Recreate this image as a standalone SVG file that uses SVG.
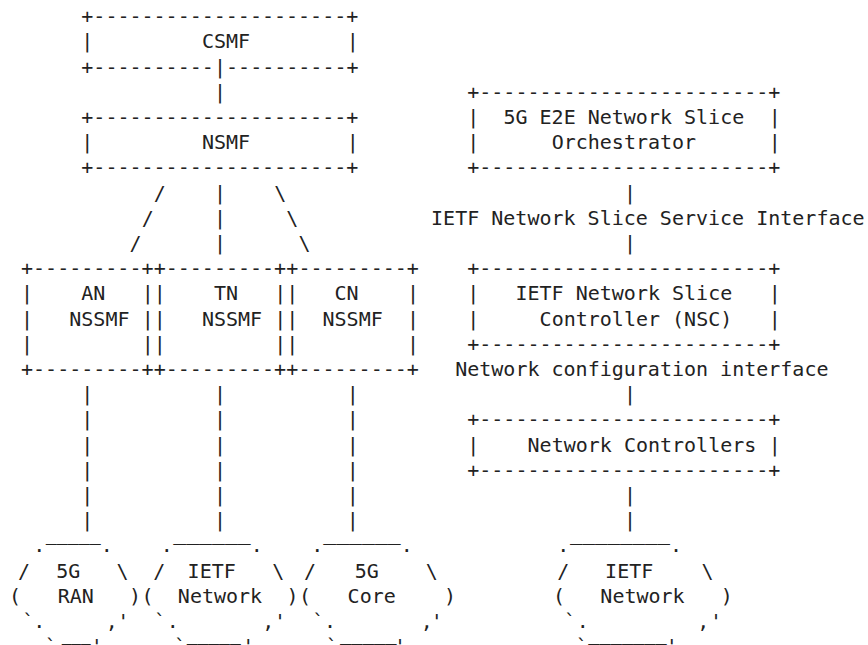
<svg xmlns="http://www.w3.org/2000/svg" width="868" height="645" viewBox="0 0 868 645">
<style>
text{font-family:"DejaVu Sans Mono","Liberation Mono",monospace;font-size:20px;fill:#222}
.m{text-anchor:middle}
</style>
<rect width="868" height="645" fill="#fff"/>
<g id="csmf">
<text x="81.33" y="23.1">+---------------------+</text>
<text x="81.33" y="48.3">|</text><text x="201.93" y="48.3">CSMF</text><text x="346.65" y="48.3">|</text>
<text x="81.33" y="73.5">+----------</text><text x="226.05" y="73.5">----------+</text>
</g>
<g id="nsmf">
<text x="81.33" y="123.9">+---------------------+</text>
<text x="81.33" y="149.1">|</text><text x="201.93" y="149.1">NSMF</text><text x="346.65" y="149.1">|</text>
<text x="81.33" y="174.3">+---------------------+</text>
</g>
<g id="an-nssmf">
<text x="21.03" y="275.1">+---------+</text>
<text x="21.03" y="300.3">|</text><text x="81.33" y="300.3">AN</text><text x="141.63" y="300.3">|</text>
<text x="21.03" y="325.5">|</text><text x="69.27" y="325.5">NSSMF</text><text x="141.63" y="325.5">|</text>
<text x="21.03" y="350.7">|</text><text x="141.63" y="350.7">|</text>
<text x="21.03" y="375.9">+---------+</text>
</g>
<g id="tn-nssmf">
<text x="153.69" y="275.1">+---------+</text>
<text x="153.69" y="300.3">|</text><text x="213.99" y="300.3">TN</text><text x="274.29" y="300.3">|</text>
<text x="153.69" y="325.5">|</text><text x="201.93" y="325.5">NSSMF</text><text x="274.29" y="325.5">|</text>
<text x="153.69" y="350.7">|</text><text x="274.29" y="350.7">|</text>
<text x="153.69" y="375.9">+---------+</text>
</g>
<g id="cn-nssmf">
<text x="286.35" y="275.1">+---------+</text>
<text x="286.35" y="300.3">|</text><text x="334.59" y="300.3">CN</text><text x="406.95" y="300.3">|</text>
<text x="286.35" y="325.5">|</text><text x="322.53" y="325.5">NSSMF</text><text x="406.95" y="325.5">|</text>
<text x="286.35" y="350.7">|</text><text x="406.95" y="350.7">|</text>
<text x="286.35" y="375.9">+---------+</text>
</g>
<g id="ran">
<text class="m" x="39.3" y="552.3">.</text><text x="45.7" y="539.8" textLength="55" lengthAdjust="spacingAndGlyphs">_____</text><text class="m" x="106.7" y="552.3">.</text>
<text class="m" x="24" y="577.5">/</text><text class="m" x="68.3" y="577.5">5G</text><text class="m" x="122.5" y="577.5">\</text>
<text class="m" x="15" y="602.7">(</text><text class="m" x="75.8" y="602.7">RAN</text><text class="m" x="135" y="602.7">)</text>
<text class="m" x="28.3" y="627.9">`</text><text class="m" x="39.3" y="627.9">.</text><text class="m" x="111.7" y="627.9">,</text><text class="m" x="123.3" y="627.9">'</text>
<text class="m" x="50.7" y="653.1">`</text><text x="61.7" y="639.8" textLength="29" lengthAdjust="spacingAndGlyphs">___</text><text class="m" x="96.7" y="653.1">'</text>
</g>
<g id="ietf-network">
<text class="m" x="166.7" y="552.3">.</text><text x="173.3" y="539.8" textLength="77.4" lengthAdjust="spacingAndGlyphs">______</text><text class="m" x="256.7" y="552.3">.</text>
<text class="m" x="159.2" y="577.5">/</text><text class="m" x="211.7" y="577.5">IETF</text><text class="m" x="278.3" y="577.5">\</text>
<text class="m" x="147.5" y="602.7">(</text><text class="m" x="220" y="602.7">Network</text><text class="m" x="292.5" y="602.7">)</text>
<text class="m" x="160" y="627.9">`</text><text class="m" x="172.7" y="627.9">.</text><text class="m" x="268.3" y="627.9">,</text><text class="m" x="280" y="627.9">'</text>
<text class="m" x="180" y="653.1">`</text><text x="186.7" y="639.8" textLength="54" lengthAdjust="spacingAndGlyphs">_____</text><text class="m" x="248.3" y="653.1">'</text>
</g>
<g id="core">
<text class="m" x="317.3" y="552.3">.</text><text x="323.3" y="539.8" textLength="77.4" lengthAdjust="spacingAndGlyphs">______</text><text class="m" x="406.7" y="552.3">.</text>
<text class="m" x="310" y="577.5">/</text><text class="m" x="366.7" y="577.5">5G</text><text class="m" x="431.7" y="577.5">\</text>
<text class="m" x="305" y="602.7">(</text><text class="m" x="371.7" y="602.7">Core</text><text class="m" x="450" y="602.7">)</text>
<text class="m" x="318.3" y="627.9">`</text><text class="m" x="330" y="627.9">.</text><text class="m" x="426.7" y="627.9">,</text><text class="m" x="436.7" y="627.9">'</text>
<text class="m" x="331.7" y="653.1">`</text><text x="340" y="639.8" textLength="56.7" lengthAdjust="spacingAndGlyphs">_____</text><text class="m" x="400" y="653.1">'</text>
</g>
<g id="orchestrator">
<text x="467.25" y="98.7">+------------------------+</text>
<text x="467.25" y="123.9">|</text><text x="503.43" y="123.9">5G E2E Network Slice</text><text x="768.75" y="123.9">|</text>
<text x="467.25" y="149.1">|</text><text x="551.67" y="149.1">Orchestrator</text><text x="768.75" y="149.1">|</text>
<text x="467.25" y="174.3">+------------------------+</text>
</g>
<g id="nsc">
<text x="467.25" y="275.1">+------------------------+</text>
<text x="467.25" y="300.3">|</text><text x="515.49" y="300.3">IETF Network Slice</text><text x="768.75" y="300.3">|</text>
<text x="467.25" y="325.5">|</text><text x="539.61" y="325.5">Controller (NSC)</text><text x="768.75" y="325.5">|</text>
<text x="467.25" y="350.7">+------------------------+</text>
</g>
<g id="network-controllers">
<text x="467.25" y="426.3">+------------------------+</text>
<text x="467.25" y="451.5">|</text><text x="527.55" y="451.5">Network Controllers</text><text x="768.75" y="451.5">|</text>
<text x="467.25" y="476.7">+------------------------+</text>
</g>
<g id="ietf-network-2">
<text class="m" x="563.3" y="552.3">.</text><text x="570" y="539.8" textLength="100" lengthAdjust="spacingAndGlyphs">________</text><text class="m" x="676" y="552.3">.</text>
<text class="m" x="563.3" y="577.5">/</text><text class="m" x="629.2" y="577.5">IETF</text><text class="m" x="707.5" y="577.5">\</text>
<text class="m" x="559" y="602.7">(</text><text class="m" x="642.5" y="602.7">Network</text><text class="m" x="726.7" y="602.7">)</text>
<text class="m" x="570" y="627.9">`</text><text class="m" x="582.7" y="627.9">.</text><text class="m" x="703.3" y="627.9">,</text><text class="m" x="716" y="627.9">'</text>
<text class="m" x="581.7" y="653.1">`</text><text x="588.3" y="639.8" textLength="78.4" lengthAdjust="spacingAndGlyphs">_______</text><text class="m" x="671.7" y="653.1">'</text>
</g>
<g id="connectors">
<text x="213.99" y="73.5">|</text>
<text x="213.99" y="98.7">|</text>
<text x="153.69" y="199.5">/</text><text x="213.99" y="199.5">|</text><text x="274.29" y="199.5">\</text>
<text x="141.63" y="224.7">/</text><text x="213.99" y="224.7">|</text><text x="286.35" y="224.7">\</text>
<text x="129.57" y="249.9">/</text><text x="213.99" y="249.9">|</text><text x="298.41" y="249.9">\</text>
<text x="81.33" y="401.1">|</text><text x="213.99" y="401.1">|</text><text x="346.65" y="401.1">|</text>
<text x="81.33" y="426.3">|</text><text x="213.99" y="426.3">|</text><text x="346.65" y="426.3">|</text>
<text x="81.33" y="451.5">|</text><text x="213.99" y="451.5">|</text><text x="346.65" y="451.5">|</text>
<text x="81.33" y="476.7">|</text><text x="213.99" y="476.7">|</text><text x="346.65" y="476.7">|</text>
<text x="81.33" y="501.9">|</text><text x="213.99" y="501.9">|</text><text x="346.65" y="501.9">|</text>
<text x="81.33" y="527.1">|</text><text x="213.99" y="527.1">|</text><text x="346.65" y="527.1">|</text>
<text x="624.03" y="199.5">|</text>
<text x="431.07" y="224.7">IETF Network Slice Service Interface</text>
<text x="624.03" y="249.9">|</text>
<text x="455.19" y="375.9">Network configuration interface</text>
<text x="624.03" y="401.1">|</text>
<text x="624.03" y="501.9">|</text>
<text x="624.03" y="527.1">|</text>
</g>
</svg>
